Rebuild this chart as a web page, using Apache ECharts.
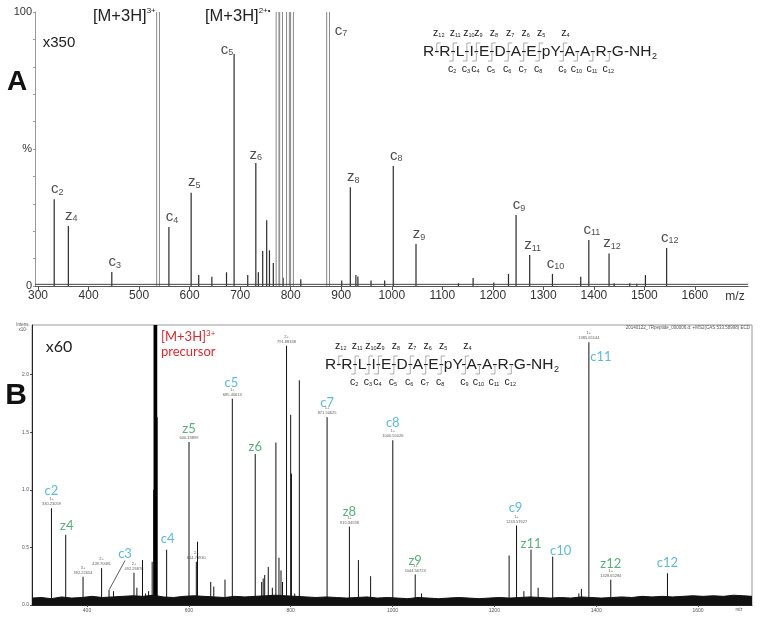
<!DOCTYPE html>
<html>
<head>
<meta charset="utf-8">
<script src="https://cdn.jsdelivr.net/npm/echarts@6/dist/echarts.min.js"></script>
<style>
  html, body { margin: 0; padding: 0; background: #fff; }
  #main { width: 764px; height: 620px; }
</style>
</head>
<body>
<div id="main"></div>
<script>
// ---- panel A (ECD, x350) ----
const topMz  = [332, 360, 446, 559, 603, 618, 644, 673, 688, 715, 731, 736, 744.6, 752.5, 758, 765.6, 785, 820,
                901, 918, 929, 933, 959, 986, 1003, 1048, 1132, 1161, 1202, 1231, 1246, 1273, 1318, 1374, 1390,
                1430, 1440, 1471, 1485, 1502, 1544];
const topInt = [31.7, 21.9, 5.1, 21.5, 34, 4, 3.4, 5, 84.7, 4, 44.9, 5, 12.8, 24, 13, 8.4, 3, 2.5,
                2, 36, 4, 3.5, 2, 2, 43.8, 15.3, 1, 2.9, 1.3, 4.4, 25.9, 11.3, 4.4, 3.4, 16.8,
                11.9, 1, 1, 0.8, 4, 13.9];
// off-scale peaks (drawn to the top of the axis)
const topClipMz  = [537.5, 774, 781, 794.6, 802.6, 874];
const topClipInt = [100, 100, 100, 100, 100, 100];
const topIonName = ['c2', 'z4', 'c3', 'c4', 'z5', 'c5', 'z6', 'c7', 'z8', 'c8', 'z9', 'c9', 'z11', 'c10', 'c11', 'z12', 'c12'];
const topIonMz   = [332, 360, 446, 559, 603, 688, 731, 874, 918, 1003, 1048, 1246, 1273, 1318, 1390, 1430, 1544];
const topBaseMz  = [294, 1705];
const topBaseInt = [0.6, 0.6];
const topXLabels = [300, 400, 500, 600, 700, 800, 900, 1000, 1100, 1200, 1300, 1400, 1500, 1600];
const topYLabels = [0, 50, 100];

// ---- panel B (x60, intensities x10^7) ----
const botMz  = [330.23, 358.2, 392.23, 428.7, 443.3, 452, 492.27, 498, 509, 515, 521, 528, 531, 537.8, 556.4,
                600.34, 614.72, 617, 643, 649, 671, 685.41, 730.4, 743, 746, 749, 756, 764, 771, 777, 781, 784,
                791.88, 800, 801.5, 808, 817, 871.51, 915.35, 933, 957, 1000.55, 1044.57, 1057, 1229, 1243.58,
                1258, 1272, 1286, 1314.6, 1366, 1371, 1385.65, 1428.65, 1540];
const botInt = [0.84, 0.61, 0.245, 0.32, 0.13, 0.12, 0.28, 0.15, 0.39, 0.1, 0.12, 0.375, 1.0, 1.63, 0.48,
                1.415, 0.375, 0.55, 0.2, 0.16, 0.22, 1.79, 1.31, 0.2, 0.23, 0.26, 0.33, 0.15, 1.41, 0.41, 0.3, 0.2,
                2.25, 1.65, 1.14, 0.1, 1.95, 1.63, 0.68, 0.39, 0.25, 1.43, 0.265, 0.1, 0.43, 0.69,
                0.12, 0.48, 0.15, 0.42, 0.1, 0.14, 2.28, 0.22, 0.275];
// precursor isotope cluster, off-scale
const botClipMz  = [532.4, 532.9, 533.3, 533.7, 534.1, 534.5, 534.9, 535.4, 535.9, 536.4];
const botClipInt = [2.6, 2.6, 2.6, 2.6, 2.6, 2.6, 2.6, 2.6, 2.6, 2.6];
const botIonName = ['c2', 'z4', 'c3', 'c4', 'z5', 'c5', 'z6', 'c7', 'z8', 'c8', 'z9', 'c9', 'z11', 'c10', 'c11', 'z12', 'c12'];
const botIonMz   = [330.23, 358.2, 443.3, 556.4, 600.34, 685.41, 730.4, 871.51, 915.35, 1000.55, 1044.57, 1243.58, 1272, 1314.6, 1385.65, 1428.65, 1540];
const botNoteMz  = [330.23, 392.23, 428.7, 492.27, 600.34, 614.72, 685.41, 791.88, 871.51, 915.35, 1000.55, 1044.57, 1243.58, 1385.65, 1428.65];
const botNoteText = ['1+|330.23059', '3+|392.22654', '2+|428.70081', '2+|492.26876', '600.33899', '2+|614.71930',
                     '1+|685.40613', '2+|791.88338', '1+|871.50625', '1+|915.34598', '1+|1000.55026', '1+|1044.56723',
                     '1+|1243.57627', '1+|1385.65144', '1+|1428.65284'];
const botNoiseMz  = [292, 310, 330, 350, 370, 390, 410, 430, 450, 470, 490, 510, 530, 550, 570, 590, 610, 630, 650, 670,
                     690, 710, 730, 750, 770, 790, 810, 830, 850, 870, 890, 910, 930, 950, 970, 990, 1010, 1030, 1050,
                     1070, 1090, 1110, 1130, 1150, 1170, 1190, 1210, 1230, 1250, 1270, 1290, 1310, 1330, 1350, 1370,
                     1390, 1410, 1430, 1450, 1470, 1490, 1510, 1530, 1550, 1570, 1590, 1610, 1630, 1650, 1670, 1690, 1706];
const botNoiseTop = [0.06, 0.065, 0.055, 0.07, 0.06, 0.065, 0.075, 0.065, 0.07, 0.075, 0.08, 0.075, 0.085, 0.07, 0.065, 0.075,
                     0.08, 0.075, 0.07, 0.065, 0.075, 0.07, 0.075, 0.08, 0.085, 0.08, 0.075, 0.07, 0.065, 0.07, 0.065,
                     0.06, 0.065, 0.07, 0.06, 0.065, 0.06, 0.055, 0.065, 0.06, 0.055, 0.06, 0.065, 0.06, 0.055, 0.06,
                     0.065, 0.06, 0.065, 0.07, 0.065, 0.06, 0.065, 0.06, 0.07, 0.065, 0.06, 0.065, 0.07, 0.065, 0.075,
                     0.07, 0.075, 0.07, 0.075, 0.08, 0.075, 0.08, 0.075, 0.085, 0.08, 0.075];
const botXLabels = [400, 600, 800, 1000, 1200, 1400, 1600];
const botYLabels = [0, 0.5, 1, 1.5, 2];

const pairs = (xs, ys) => xs.map((x, i) => [x, ys[i]]);
function heightAt(mz, lists) {
  for (const [xs, ys] of lists) {
    const i = xs.indexOf(mz);
    if (i >= 0) return ys[i];
  }
  return 0;
}

// label nudges (dx, dy) in px
const topShift = { c5: [-7, 6], z6: [0, 2], c7: [13, 29] };
const botShift = {
  c2: [0, -8], z4: [1, 0], c3: [16, -27], c4: [1, -2], z5: [0, -4], c5: [-1, -7], z6: [0, 2], c7: [0, -5],
  z8: [0, -6], c8: [0, -8], z9: [0, -5], c9: [-1, -9], z11: [0, 3], c10: [8, 3], c11: [12, 24], z12: [0, -7], c12: [0, -2]
};

const SANS = '"Liberation Sans", Arial, sans-serif';
const CAL = 'Lato, "Open Sans", sans-serif';

function stick(color, width) {
  return function (params, api) {
    const a = api.coord([api.value(0), 0]);
    const b = api.coord([api.value(0), api.value(1)]);
    return { type: 'line', shape: { x1: a[0], y1: a[1], x2: b[0], y2: b[1] }, style: { stroke: color, lineWidth: width } };
  };
}
function hollow(color) {
  return function (params, api) {
    const a = api.coord([api.value(0), 0]);
    const b = api.coord([api.value(0), api.value(1)]);
    return {
      type: 'group', children: [
        { type: 'line', shape: { x1: a[0] - 1.4, y1: a[1], x2: b[0] - 1.4, y2: b[1] }, style: { stroke: color, lineWidth: 1 } },
        { type: 'line', shape: { x1: a[0] + 1.4, y1: a[1], x2: b[0] + 1.4, y2: b[1] }, style: { stroke: color, lineWidth: 1 } }
      ]
    };
  };
}

// peptide cleavage map drawn with graphic elements
const ctx = document.createElement('canvas').getContext('2d');
function peptide(x0, y) {
  const font = '15.5px ' + SANS;
  const seq = 'R-R-L-I-E-D-A-E-pY-A-A-R-G-NH';
  ctx.font = font;
  const els = [];
  els.push({ type: 'text', x: x0, y: y, style: { text: seq, font: font, fill: '#222', verticalAlign: 'middle' } });
  els.push({ type: 'text', x: x0 + ctx.measureText(seq).width + 0.5, y: y + 5,
             style: { text: '2', font: '9px ' + SANS, fill: '#222', verticalAlign: 'middle' } });
  const hw = ctx.measureText('-').width / 2;
  const small = {
    m: { fontSize: 10.5, lineHeight: 11, fontFamily: SANS, fill: '#222' },
    s: { fontSize: 5.5, lineHeight: 6, fontFamily: SANS, fill: '#222', verticalAlign: 'bottom' }
  };
  let site = 0;
  for (let i = 0; i < seq.length; i++) {
    if (seq[i] !== '-') continue;
    site++;
    if (site > 12) break;
    const hx = x0 + ctx.measureText(seq.slice(0, i)).width + hw;
    if (site <= 9) {
      els.push({ type: 'polyline', shape: { points: [[hx, y - 1], [hx, y - 9], [hx + 4, y - 9]] },
                 style: { stroke: '#888', lineWidth: 0.7, fill: null } });
      els.push({ type: 'text', x: hx + 2, y: y - 19,
                 style: { text: '{m|z}{s|' + (13 - site) + '}', rich: small, align: 'center', verticalAlign: 'middle' } });
    }
    if (site >= 2) {
      els.push({ type: 'polyline', shape: { points: [[hx, y + 1], [hx, y + 9], [hx - 4, y + 9]] },
                 style: { stroke: '#888', lineWidth: 0.7, fill: null } });
      els.push({ type: 'text', x: hx - 1, y: y + 17,
                 style: { text: '{m|c}{s|' + site + '}', rich: small, align: 'center', verticalAlign: 'middle' } });
    }
  }
  return els;
}

function ionRich(name) {
  const m = name.match(/^([a-z])(\d+)$/);
  return '{m|' + m[1] + '}{s|' + m[2] + '}';
}

const chart = echarts.init(document.getElementById('main'));
chart.setOption({
  animation: false,
  backgroundColor: '#fff',
  grid: [
    { left: 35, right: 16, top: 12, height: 274 },
    { left: 32, right: 12, top: 325, height: 280, show: true, borderColor: '#999', borderWidth: 1 }
  ],
  xAxis: [
    {
      gridIndex: 0, type: 'value', min: 294, max: 1705,
      axisLine: { lineStyle: { color: '#555', width: 1 } },
      axisTick: { customValues: topXLabels, length: 4, lineStyle: { color: '#555' } },
      axisLabel: { customValues: topXLabels, fontSize: 12, color: '#333', fontFamily: SANS, margin: 4,
                   formatter: v => String(v) },
      splitLine: { show: false }
    },
    {
      gridIndex: 1, type: 'value', min: 292, max: 1706,
      axisLine: { lineStyle: { color: '#222', width: 1 } },
      axisTick: { customValues: botXLabels, length: 2, lineStyle: { color: '#444' } },
      axisLabel: { customValues: botXLabels, fontSize: 5, color: '#555', fontFamily: SANS, margin: 3,
                   formatter: v => String(v) },
      splitLine: { show: false }
    }
  ],
  yAxis: [
    {
      gridIndex: 0, type: 'value', min: 0, max: 100,
      axisLine: { show: true, lineStyle: { color: '#999' } },
      axisTick: { show: true, customValues: [0, 10, 20, 30, 40, 50, 60, 70, 80, 90, 100], length: 2, lineStyle: { color: '#999' } },
      axisLabel: { customValues: topYLabels, fontSize: 11, color: '#333', fontFamily: SANS, margin: 3,
                   formatter: v => (v === 50 ? '%' : String(v)) },
      splitLine: { show: false }
    },
    {
      gridIndex: 1, type: 'value', min: 0, max: 2.43,
      axisLine: { show: true, lineStyle: { color: '#222' } },
      axisTick: { show: true, customValues: botYLabels, length: 2, lineStyle: { color: '#444' } },
      axisLabel: { customValues: botYLabels, fontSize: 5, color: '#555', fontFamily: SANS, margin: 3,
                   formatter: v => v.toFixed(1) },
      splitLine: { show: false }
    }
  ],
  series: [
    { name: 'baseA', type: 'line', xAxisIndex: 0, yAxisIndex: 0, data: pairs(topBaseMz, topBaseInt),
      symbol: 'none', lineStyle: { color: '#444', width: 1 }, silent: true },
    { name: 'peaksA', type: 'custom', xAxisIndex: 0, yAxisIndex: 0, clip: true, silent: true,
      renderItem: stick('#2a2a2a', 1.2), encode: { x: 0, y: 1 }, data: pairs(topMz, topInt) },
    { name: 'offscaleA', type: 'custom', xAxisIndex: 0, yAxisIndex: 0, clip: true, silent: true,
      renderItem: hollow('#888'), encode: { x: 0, y: 1 }, data: pairs(topClipMz, topClipInt) },
    { name: 'ionsA', type: 'scatter', xAxisIndex: 0, yAxisIndex: 0, symbolSize: 1, silent: true,
      itemStyle: { color: 'rgba(0,0,0,0)' },
      data: topIonName.map((n, i) => ({ name: n, value: [topIonMz[i], heightAt(topIonMz[i], [[topMz, topInt], [topClipMz, topClipInt]])] })),
      label: {
        show: true, position: 'top', distance: 2, formatter: p => ionRich(p.name),
        rich: {
          m: { fontSize: 15, lineHeight: 16, fontFamily: SANS, color: '#222' },
          s: { fontSize: 9, lineHeight: 9, fontFamily: SANS, color: '#222', verticalAlign: 'bottom' }
        }
      },
      labelLayout: p => { const s = topShift[topIonName[p.dataIndex]] || [3, 0]; return { dx: s[0], dy: s[1] }; }
    },

    { name: 'noiseB', type: 'line', xAxisIndex: 1, yAxisIndex: 1, data: pairs(botNoiseMz, botNoiseTop),
      symbol: 'none', lineStyle: { color: '#111', width: 1 }, areaStyle: { color: '#111', opacity: 1 }, silent: true },
    { name: 'peaksB', type: 'custom', xAxisIndex: 1, yAxisIndex: 1, clip: true, silent: true,
      renderItem: stick('#111', 1), encode: { x: 0, y: 1 }, data: pairs(botMz, botInt) },
    { name: 'precursorB', type: 'custom', xAxisIndex: 1, yAxisIndex: 1, clip: true, silent: true,
      renderItem: stick('#000', 1.6), encode: { x: 0, y: 1 }, data: pairs(botClipMz, botClipInt) },
    { name: 'notesB', type: 'scatter', xAxisIndex: 1, yAxisIndex: 1, symbolSize: 1, silent: true,
      itemStyle: { color: 'rgba(0,0,0,0)' },
      data: botNoteMz.map((x, i) => ({ name: botNoteText[i], value: [x, heightAt(x, [[botMz, botInt]])] })),
      label: { show: true, position: 'top', distance: 1, fontSize: 4, lineHeight: 5, color: '#333', fontFamily: SANS,
               formatter: p => p.name.replace('|', '\n') }
    },
    { name: 'ionsB', type: 'scatter', xAxisIndex: 1, yAxisIndex: 1, symbolSize: 1, silent: true,
      itemStyle: { color: 'rgba(0,0,0,0)' },
      data: botIonName.map((n, i) => ({
        name: n, value: [botIonMz[i], heightAt(botIonMz[i], [[botMz, botInt]])],
        labelLine: n === 'c3' ? { show: true, lineStyle: { color: '#333', width: 0.8 } } : { show: false }
      })),
      label: {
        show: true, position: 'top', distance: 2, formatter: p => '{' + p.name[0] + '|' + p.name + '}',
        rich: {
          c: { fontSize: 13, fontFamily: CAL, color: '#2EAAD6' },
          z: { fontSize: 13, fontFamily: CAL, color: '#2A9C58' }
        }
      },
      labelLayout: p => { const s = botShift[botIonName[p.dataIndex]] || [0, 0]; return { dx: s[0], dy: s[1] }; }
    }
  ],
  graphic: [
    { type: 'text', x: 17, y: 82, style: { text: 'A', font: 'bold 28px ' + SANS, fill: '#111', align: 'center', verticalAlign: 'middle' } },
    { type: 'text', x: 59, y: 43, style: { text: 'x350', font: '15px ' + SANS, fill: '#222', align: 'center', verticalAlign: 'middle' } },
    { type: 'text', x: 93, y: 16, style: { text: '{m|[M+3H]}{s|3+}', align: 'left', verticalAlign: 'middle',
        rich: { m: { fontSize: 16.5, lineHeight: 18, fontFamily: SANS, fill: '#222' },
                s: { fontSize: 8, lineHeight: 8, fontFamily: SANS, fill: '#222', verticalAlign: 'top' } } } },
    { type: 'text', x: 205, y: 16, style: { text: '{m|[M+3H]}{s|2+\u2022}', align: 'left', verticalAlign: 'middle',
        rich: { m: { fontSize: 16.5, lineHeight: 18, fontFamily: SANS, fill: '#222' },
                s: { fontSize: 8, lineHeight: 8, fontFamily: SANS, fill: '#222', verticalAlign: 'top' } } } },
    { type: 'text', x: 735, y: 297, style: { text: 'm/z', font: '12px ' + SANS, fill: '#333', align: 'center', verticalAlign: 'middle' } },
    ...peptide(423, 52),

    { type: 'text', x: 16, y: 396, style: { text: 'B', font: 'bold 30px ' + SANS, fill: '#111', align: 'center', verticalAlign: 'middle' } },
    { type: 'text', x: 59, y: 347, style: { text: 'x60', font: '16px ' + CAL, fill: '#222', align: 'center', verticalAlign: 'middle' } },
    { type: 'text', x: 161, y: 337, style: { text: '{m|[M+3H]}{s|3+}', align: 'left', verticalAlign: 'middle',
        rich: { m: { fontSize: 13, lineHeight: 15, fontFamily: CAL, fill: '#E0282C' },
                s: { fontSize: 8, lineHeight: 8, fontFamily: CAL, fill: '#E0282C', verticalAlign: 'top' } } } },
    { type: 'text', x: 161, y: 352, style: { text: 'precursor', font: '13px ' + CAL, fill: '#E0282C', align: 'left', verticalAlign: 'middle' } },
    { type: 'text', x: 750, y: 328, style: { text: '20140122_7Rpeptide_000006.d: +MS2(CAS 533.58998) ECD', font: '4.5px ' + SANS, fill: '#555', align: 'right', verticalAlign: 'middle' } },
    { type: 'text', x: 23, y: 327, style: { text: 'Intens.\nx10\u2077', font: '4.5px ' + SANS, lineHeight: 5, fill: '#555', align: 'center', verticalAlign: 'middle' } },
    { type: 'text', x: 739, y: 610, style: { text: 'm/z', font: '4.5px ' + SANS, fill: '#555', align: 'center', verticalAlign: 'middle' } },
    ...peptide(325, 365)
  ]
});
</script>
</body>
</html>
